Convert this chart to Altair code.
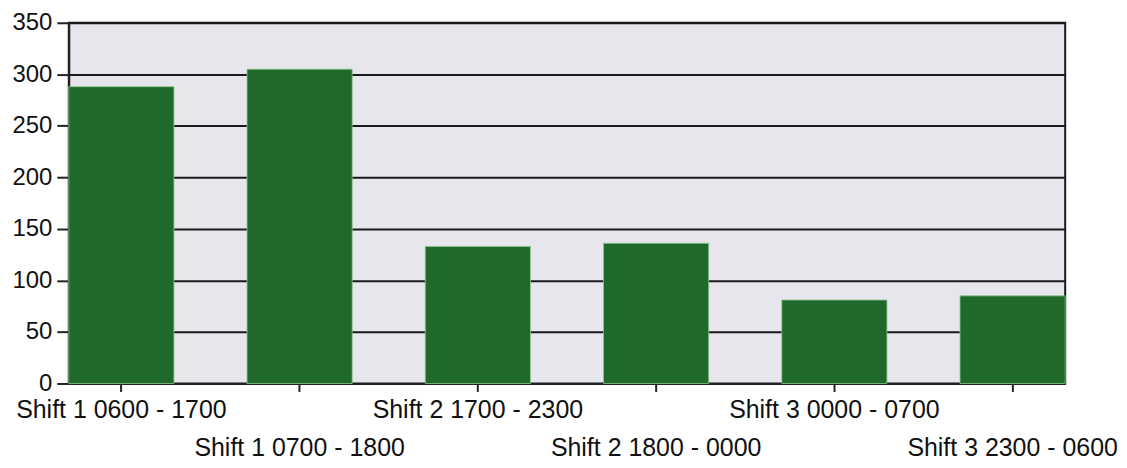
import altair as alt
import pandas as pd

categories = [
    "Shift 1 0600 - 1700",
    "Shift 1 0700 - 1800",
    "Shift 2 1700 - 2300",
    "Shift 2 1800 - 0000",
    "Shift 3 0000 - 0700",
    "Shift 3 2300 - 0600",
]
values = [288, 305, 133, 136, 81, 85]
y_ticks = [0, 50, 100, 150, 200, 250, 300, 350]

df = pd.DataFrame({"shift": categories, "count": values})

lower_row = categories[1::2]
lower_list = "[" + ",".join("'" + c + "'" for c in lower_row) + "]"
label_expr = f"indexof({lower_list}, datum.value) >= 0 ? ['', datum.label] : datum.label"

FONT = "Liberation Sans"

chart = (
    alt.Chart(df)
    .mark_bar(color="#1f6a2a", stroke="#8cc98c", strokeWidth=0.8)
    .encode(
        x=alt.X(
            "shift:N",
            sort=categories,
            title=None,
            scale=alt.Scale(paddingInner=0.41, paddingOuter=0),
            axis=alt.Axis(
                labelAngle=0,
                labelExpr=label_expr,
                labelLineHeight=38,
                labelFont=FONT,
                labelFontSize=25,
                labelColor="#111111",
                labelPadding=6,
                labelLimit=400,
                labelOverlap=False,
                labelBaseline="top",
                tickSize=8,
                tickWidth=2,
                tickColor="#222222",
                domainColor="#222222",
                domainWidth=2,
                grid=False,
            ),
        ),
        y=alt.Y(
            "count:Q",
            title=None,
            scale=alt.Scale(domain=[0, 350], nice=False),
            axis=alt.Axis(
                values=y_ticks,
                labelFont=FONT,
                labelFontSize=24,
                labelColor="#111111",
                labelPadding=5,
                tickSize=12,
                tickWidth=2,
                tickColor="#222222",
                domainColor="#222222",
                domainWidth=2,
                grid=True,
                gridColor="#1a1a1a",
                gridWidth=2,
                gridOpacity=1,
            ),
        ),
    )
    .properties(
        width=1000,
        height=362,
        background="white",
        autosize=alt.AutoSizeParams(type="none"),
        padding={"left": 61, "top": 14, "right": 54, "bottom": 80},
    )
    .configure_view(fill="#e6e6ec", stroke="#1a1a1a", strokeWidth=2)
)

chart.save("out.html", embed_options={"renderer": "svg", "actions": False})
